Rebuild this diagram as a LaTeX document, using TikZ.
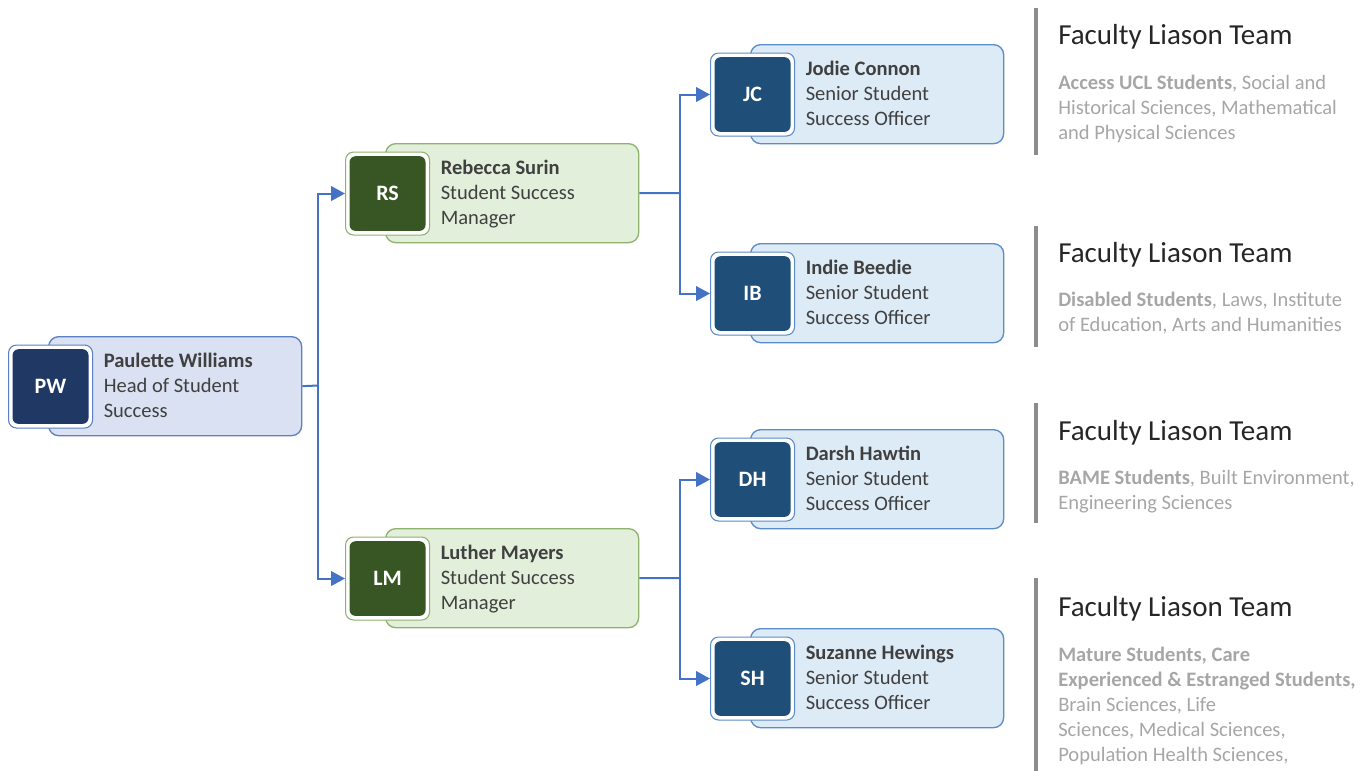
\documentclass[tikz,border=0pt]{standalone}
\usepackage{fontspec}
\setmainfont{Carlito}
\usetikzlibrary{arrows.meta}
\definecolor{pwfill}{HTML}{D9E1F2}
\definecolor{pwline}{HTML}{5B7FC2}
\definecolor{pwdark}{HTML}{1F3864}
\definecolor{smfill}{HTML}{E2EFDA}
\definecolor{smline}{HTML}{8FB26D}
\definecolor{smdark}{HTML}{375623}
\definecolor{sofill}{HTML}{DDEBF7}
\definecolor{soline}{HTML}{5B8BC8}
\definecolor{sodark}{HTML}{1F4E79}
\definecolor{conncol}{HTML}{4472C4}
\definecolor{textgrey}{HTML}{404040}
\definecolor{bodygrey}{HTML}{A6A6A6}
\definecolor{bargrey}{HTML}{8C8C8C}
\definecolor{titlecol}{HTML}{262626}
\tikzset{
  card/.style={draw=#1line, fill=#1fill, line width=1pt, rounded corners=7.5pt,
    minimum width=189.75pt, minimum height=74.25pt, inner sep=0pt},
  avout/.style={draw=#1line, fill=white, line width=0.8pt, rounded corners=6pt,
    minimum width=63pt, minimum height=62.25pt, inner sep=0pt},
  avin/.style={fill=#1dark, rounded corners=4.5pt, minimum width=57pt,
    minimum height=56pt, inner sep=0pt, text=white,
    font=\fontsize{16.5}{20}\selectfont\bfseries},
  txt/.style={inner sep=0pt, align=left, text=textgrey,
    font=\fontsize{15.4}{18.75}\selectfont},
  conn/.style={draw=conncol, line width=1.5pt},
  arr/.style={conn, -{Triangle[length=10.5pt,width=11pt]}},
  bar/.style={draw=bargrey, line width=3pt},
  ptitle/.style={inner sep=0pt, text=titlecol, font=\fontsize{21.75}{26}\selectfont},
  pbody/.style={inner sep=0pt, align=left, text=bodygrey,
    font=\fontsize{15.4}{18.75}\selectfont}
}
\newcommand{\mkperson}[8]{%
  \node[card=#4, anchor=north west] (#1) at (#2,#3) {};
  \node[avout=#4, anchor=north west] (#1a) at (#2-40,#3+8.5) {};
  \node[avin=#4] (#1i) at (#1a.center) {#5};
  \node[txt, anchor=north west] (#1t) at (#2+55.5,#3+16.5) {\textbf{#6}\\#7\\#8};
}
\newcommand{\mkpanel}[6]{%
  \draw[bar] (1036,#2) -- (1036,#3);
  \node[ptitle, anchor=base west] (#1t) at (1058,#4) {Faculty Liason Team};
  \node[pbody, anchor=north west] (#1b) at (1058,#5) {#6};
}
\begin{document}
\begin{tikzpicture}[x=0.75pt,y=-0.75pt]
\useasboundingbox (0,0) rectangle (1371,771);
\mkperson{pw}{48}{336}{pw}{PW}{Paulette Williams}{Head of Student}{Success}
\mkperson{rs}{385}{143}{sm}{RS}{Rebecca Surin}{Student Success}{Manager}
\mkperson{lm}{385}{528}{sm}{LM}{Luther Mayers}{Student Success}{Manager}
\mkperson{jc}{750}{44}{so}{JC}{Jodie Connon}{Senior Student}{Success Officer}
\mkperson{ib}{750}{243}{so}{IB}{Indie Beedie}{Senior Student}{Success Officer}
\mkperson{dh}{750}{429}{so}{DH}{Darsh Hawtin}{Senior Student}{Success Officer}
\mkperson{sh}{750}{628}{so}{SH}{Suzanne Hewings}{Senior Student}{Success Officer}

\coordinate (j1) at (318,385.5);
\coordinate (j2) at (680,193);
\coordinate (j3) at (680,578);
\draw[conn] (pw.east) -- (j1);
\draw[arr] (j1) |- (rsa.west);
\draw[arr] (j1) |- (lma.west);
\draw[conn] (rs.east) -- (j2);
\draw[arr] (j2) |- (jca.west);
\draw[arr] (j2) |- (iba.west);
\draw[conn] (lm.east) -- (j3);
\draw[arr] (j3) |- (dha.west);
\draw[arr] (j3) |- (sha.west);

\mkpanel{p1}{8}{155}{44}{74.5}{\textbf{Access UCL Students}, Social and\\Historical Sciences, Mathematical\\and Physical Sciences}
\mkpanel{p2}{226}{347}{262}{291.5}{\textbf{Disabled Students}, Laws, Institute\\of Education, Arts and Humanities}
\mkpanel{p3}{403}{523}{440}{469.5}{\textbf{BAME Students}, Built Environment,\\Engineering Sciences}
\mkpanel{p4}{578}{771}{616}{646.5}{\textbf{Mature Students, Care}\\\textbf{Experienced \& Estranged Students,}\\Brain Sciences, Life\\Sciences, Medical Sciences,\\Population Health Sciences,}
\end{tikzpicture}
\end{document}
